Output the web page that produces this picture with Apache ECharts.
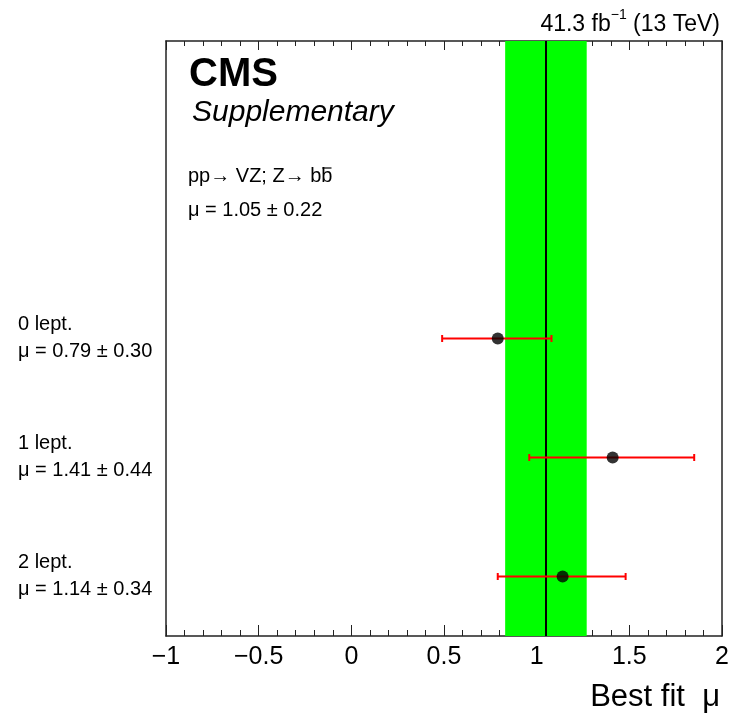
<!DOCTYPE html>
<html><head><meta charset="utf-8">
<script src="https://cdn.jsdelivr.net/npm/echarts@6/dist/echarts.min.js"></script>
<style>html,body{margin:0;padding:0;background:#fff}#c{width:736px;height:714px}</style>
</head><body><div id="c"></div>
<script>
const categories = ['0 lept.', '1 lept.', '2 lept.'];
const muValues = [0.79, 1.41, 1.14];
const errLow = [0.30, 0.45, 0.35];
const errHigh = [0.29, 0.44, 0.34];
const errQuoted = [0.30, 0.44, 0.34];
const yPositions = [2.5, 1.5, 0.5];
const combinedMu = 1.05;
const combinedErr = 0.22;
const bandLow = 0.83, bandHigh = 1.27;
const xTicks = [-1, -0.5, 0, 0.5, 1, 1.5, 2];

const FONT = 'Liberation Sans, Arial, sans-serif';
const chart = echarts.init(document.getElementById('c'));

const errData = categories.map((c, i) => [muValues[i] - errLow[i], muValues[i] + errHigh[i], yPositions[i]]);
const ptData = categories.map((c, i) => [muValues[i], yPositions[i]]);

function fmt(v){ return String(v).replace('-', '\u2212'); }

const option = {
  animation: false,
  grid: {left: 166, right: 14, top: 41, bottom: 78, show: false},
  xAxis: [{
    type: 'value', min: xTicks[0], max: xTicks[xTicks.length-1], interval: 0.5, position: 'bottom',
    axisLine: {show: true, onZero: false, lineStyle: {color: '#222', width: 1.5}},
    axisTick: {show: true, inside: true, length: 11, lineStyle: {color: '#222', width: 1}},
    minorTick: {show: true, splitNumber: 5, length: 6, lineStyle: {color: '#222', width: 1}},
    axisLabel: {color: '#000', fontSize: 25, fontFamily: FONT, margin: 9, formatter: fmt},
    splitLine: {show: false}
  }, {
    type: 'value', min: xTicks[0], max: xTicks[xTicks.length-1], interval: 0.5, position: 'top',
    axisLine: {show: true, onZero: false, lineStyle: {color: '#222', width: 1.5}},
    axisTick: {show: true, inside: true, length: 9, lineStyle: {color: '#222', width: 1}},
    minorTick: {show: true, splitNumber: 5, length: 5, lineStyle: {color: '#222', width: 1}},
    axisLabel: {show: false},
    splitLine: {show: false}
  }],
  yAxis: [{
    type: 'value', min: 0, max: 5, position: 'left',
    axisLine: {show: true, onZero: false, lineStyle: {color: '#222', width: 1.5}},
    axisTick: {show: false}, axisLabel: {show: false}, splitLine: {show: false}
  }, {
    type: 'value', min: 0, max: 5, position: 'right',
    axisLine: {show: true, onZero: false, lineStyle: {color: '#222', width: 1.5}},
    axisTick: {show: false}, axisLabel: {show: false}, splitLine: {show: false}
  }],
  series: [{
    type: 'line', data: [], xAxisIndex: 0, yAxisIndex: 0,
    markArea: {silent: true, itemStyle: {color: '#00ff00', opacity: 1},
      data: [[{xAxis: bandLow, yAxis: 0}, {xAxis: bandHigh, yAxis: 5}]]},
    markLine: {silent: true, symbol: 'none', label: {show: false},
      lineStyle: {color: '#000', width: 2, type: 'solid'},
      data: [{xAxis: combinedMu}]}
  }, {
    type: 'custom', xAxisIndex: 0, yAxisIndex: 0, z: 5,
    data: errData,
    renderItem: function(params, api){
      const p1 = api.coord([api.value(0), api.value(2)]);
      const p2 = api.coord([api.value(1), api.value(2)]);
      const st = {stroke: '#ff0000', lineWidth: 2};
      return {type: 'group', children: [
        {type: 'line', shape: {x1: p1[0], y1: p1[1], x2: p2[0], y2: p2[1]}, style: st},
        {type: 'line', shape: {x1: p1[0], y1: p1[1]-3.5, x2: p1[0], y2: p1[1]+3.5}, style: st},
        {type: 'line', shape: {x1: p2[0], y1: p2[1]-3.5, x2: p2[0], y2: p2[1]+3.5}, style: st}
      ]};
    }
  }, {
    type: 'scatter', xAxisIndex: 0, yAxisIndex: 0, z: 6,
    data: ptData, symbol: 'circle', symbolSize: 12,
    itemStyle: {color: '#000'}
  }]
};
chart.setOption(option);

const ctx = document.createElement('canvas').getContext('2d');
ctx.font = '20px "Liberation Sans"';
const prefix = 'pp\u2192 VZ; Z\u2192 b';
const prefW = ctx.measureText(prefix).width;
const bW = ctx.measureText('b').width;

const graphics = [
  {type: 'text', right: 16, top: 8, style: {
    text: '{n|41.3 fb}{s|\u22121}{n| (13 TeV)}', fontFamily: FONT,
    rich: {n: {fontSize: 23, fontFamily: FONT, fill: '#000', verticalAlign: 'bottom', lineHeight: 28},
           s: {fontSize: 14, fontFamily: FONT, fill: '#000', verticalAlign: 'top', lineHeight: 28, padding: [0,0,9,0]}}}},
  {type: 'text', left: 189, top: 55, style: {text: 'CMS', fontSize: 40, fontWeight: 'bold', fontFamily: FONT, fill: '#000'}},
  {type: 'text', left: 192, top: 98, style: {text: 'Supplementary', fontSize: 30, fontStyle: 'italic', fontFamily: FONT, fill: '#000'}},
  {type: 'text', left: 188, top: 166, style: {text: prefix + 'b', fontSize: 20, fontFamily: FONT, fill: '#000'}},
  {type: 'line', shape: {x1: 188 + prefW + 1, y1: 168, x2: 188 + prefW + bW - 1, y2: 168}, style: {stroke: '#000', lineWidth: 1.2}},
  {type: 'text', left: 188, top: 200, style: {text: '\u03bc = ' + combinedMu.toFixed(2) + ' \u00b1 ' + combinedErr.toFixed(2), fontSize: 20, fontFamily: FONT, fill: '#000'}},
  {type: 'text', right: 16, top: 682, style: {text: 'Best fit  \u03bc', fontSize: 31, fontFamily: FONT, fill: '#000'}}
];
categories.forEach((c, i) => {
  const py = chart.convertToPixel({yAxisIndex: 0}, yPositions[i]);
  graphics.push({type: 'text', left: 18, top: py - 24, style: {text: c, fontSize: 20, fontFamily: FONT, fill: '#000'}});
  graphics.push({type: 'text', left: 18, top: py + 3, style: {text: '\u03bc = ' + muValues[i].toFixed(2) + ' \u00b1 ' + errQuoted[i].toFixed(2), fontSize: 20, fontFamily: FONT, fill: '#000'}});
});
chart.setOption({graphic: graphics});
</script></body></html>
